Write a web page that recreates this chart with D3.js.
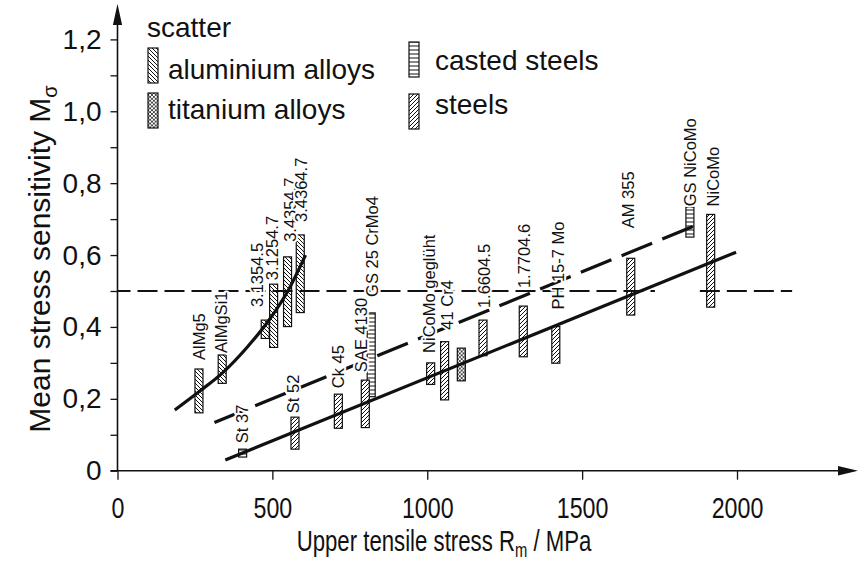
<!DOCTYPE html>
<html>
<head>
<meta charset="utf-8">
<script src="https://cdn.jsdelivr.net/npm/d3@7"></script>
<style>
  body { margin: 0; background: #fff; }
  svg { display: block; font-family: "Liberation Sans", Arial, Helvetica, sans-serif; }
</style>
</head>
<body>
<svg id="chart" width="859" height="562"></svg>
<script>
// Scatter bands of mean stress sensitivity: tensile strength Rm (MPa), lower / upper M_sigma
const aluminiumAlloys = [
  { name: "AlMg5",    rm: 263, lo: 0.161, hi: 0.283 },
  { name: "AlMgSi1",  rm: 338, lo: 0.243, hi: 0.322 },
  { name: "3.1354.5", rm: 477, lo: 0.368, hi: 0.419 },
  { name: "3.1254.7", rm: 504, lo: 0.343, hi: 0.519 },
  { name: "3.4354.7", rm: 549, lo: 0.401, hi: 0.595 },
  { name: "3.4364.7", rm: 590, lo: 0.440, hi: 0.656 }
];
const titaniumAlloys = [
  { name: "", rm: 1110, lo: 0.250, hi: 0.341 }
];
const castedSteels = [
  { name: "St 37",       rm: 404,  lo: 0.038, hi: 0.060 },
  { name: "GS 25 CrMo4", rm: 819,  lo: 0.206, hi: 0.439 },
  { name: "GS NiCoMo",   rm: 1848, lo: 0.650, hi: 0.733 }
];
const steels = [
  { name: "St 52",          rm: 573,  lo: 0.060, hi: 0.149 },
  { name: "Ck 45",          rm: 713,  lo: 0.118, hi: 0.213 },
  { name: "SAE 4130",       rm: 800,  lo: 0.120, hi: 0.252 },
  { name: "NiCoMo geglüht", rm: 1011, lo: 0.240, hi: 0.300 },
  { name: "41 Cr4",         rm: 1056, lo: 0.197, hi: 0.359 },
  { name: "1.6604.5",       rm: 1180, lo: 0.320, hi: 0.419 },
  { name: "1.7704.6",       rm: 1310, lo: 0.317, hi: 0.458 },
  { name: "PH 15-7 Mo",     rm: 1415, lo: 0.299, hi: 0.401 },
  { name: "AM 355",         rm: 1657, lo: 0.433, hi: 0.591 },
  { name: "NiCoMo",         rm: 1915, lo: 0.455, hi: 0.713 }
];

// Trend lines (Rm, M_sigma)
const aluminiumTrend = [[185, 0.169], [265, 0.221], [340, 0.273], [420, 0.345], [490, 0.420], [550, 0.500], [607, 0.600]];
const steelTrend = [[348, 0.030], [1997, 0.608]];
const castTrend = [[313, 0.134], [1870, 0.684]];

// Reference level M_sigma = 0.5 and the Rm spans where it is drawn
const refLevel = 0.5;
const refSpans = [[0, 1735], [1880, 2178]];

// Axis ticks
const xTicks = [0, 500, 1000, 1500, 2000];
const yTicks = [0, 0.1, 0.2, 0.3, 0.4, 0.5, 0.6, 0.7, 0.8, 0.9, 1.0, 1.1, 1.2];
const yTickLabels = { 0: "0", 0.2: "0,2", 0.4: "0,4", 0.6: "0,6", 0.8: "0,8", 1.0: "1,0", 1.2: "1,2" };

// Label placement around each band: [horizontal shift, lift above band] in px
const labelLayout = {
  "AlMg5": [0, 9], "AlMgSi1": [-1.5, 2], "3.1354.5": [-8, 13], "3.1254.7": [-1.5, 4],
  "3.4354.7": [2, 15], "3.4364.7": [1, 13], "St 37": [-0.5, 6], "St 52": [-1.5, 4],
  "Ck 45": [0, 6], "SAE 4130": [-4.5, 8], "GS 25 CrMo4": [0.5, 16], "NiCoMo geglüht": [-2, 10],
  "41 Cr4": [2, 12], "1.6604.5": [0.5, 12], "1.7704.6": [1, 18], "PH 15-7 Mo": [2, 17],
  "AM 355": [-2.5, 30], "GS NiCoMo": [0, 1], "NiCoMo": [2, 8]
};

const ink = "#111";
const svg = d3.select("#chart");
const x = d3.scaleLinear().domain([0, 2000]).range([117.5, 737]);
const y = d3.scaleLinear().domain([0, 1.2]).range([470.7, 39.4]);
const x0 = x(0), y0 = y(0);

// ---- fill patterns ----
const defs = svg.append("defs");
function pattern(id, size, paths, width) {
  const p = defs.append("pattern").attr("id", id)
    .attr("patternUnits", "userSpaceOnUse").attr("width", size).attr("height", size);
  p.append("rect").attr("width", size).attr("height", size).attr("fill", "#fff");
  paths.forEach(d => p.append("path").attr("d", d).attr("stroke", ink)
    .attr("stroke-width", width).attr("fill", "none"));
}
function diag(t, down) {
  return down
    ? `M0,0L${t},${t}M-1,${t - 1}L1,${t + 1}M${t - 1},-1L${t + 1},1`
    : `M0,${t}L${t},0M-1,1L1,-1M${t - 1},${t + 1}L${t + 1},${t - 1}`;
}
pattern("hatchAl", 4, [diag(4, true)], 1);
pattern("hatchSteel", 4, [diag(4, false)], 1);
pattern("hatchTi", 3.8, [diag(3.8, true), diag(3.8, false)], 0.75);
pattern("hatchCast", 4, [`M0,2H4`], 1);

const barW = 8;
const bars = svg.append("g");
function drawBars(data, fillId) {
  bars.selectAll(null).data(data).join("rect")
    .attr("x", d => x(d.rm) - barW / 2)
    .attr("width", barW)
    .attr("y", d => y(d.hi))
    .attr("height", d => y(d.lo) - y(d.hi))
    .attr("fill", `url(#${fillId})`)
    .attr("stroke", ink).attr("stroke-width", 1.2);
}
drawBars(aluminiumAlloys, "hatchAl");
drawBars(castedSteels, "hatchCast");
drawBars(titaniumAlloys, "hatchTi");
drawBars(steels, "hatchSteel");

// ---- trend lines ----
const line = d3.line().x(d => x(d[0])).y(d => y(d[1]));
const lines = svg.append("g").attr("fill", "none").attr("stroke", ink);
lines.append("path").attr("d", line.curve(d3.curveMonotoneX)(aluminiumTrend))
  .attr("stroke-width", 3.2);
line.curve(d3.curveLinear);
lines.append("path").attr("d", line(steelTrend)).attr("stroke-width", 3.2);
lines.append("path").attr("d", line(castTrend)).attr("stroke-width", 3.2)
  .attr("stroke-dasharray", "33,11");
lines.selectAll(null).data(refSpans).join("path")
  .attr("d", d => line([[d[0], refLevel], [d[1], refLevel]]))
  .attr("stroke-width", 1.9)
  .attr("stroke-dasharray", "20,7")
  .attr("stroke-dashoffset", (d, i) => i === 0 ? 7 : 0);

// ---- band labels (white halo knocks out lines underneath) ----
const labelled = [...aluminiumAlloys, ...castedSteels, ...steels].filter(d => d.name);
svg.append("g").selectAll("text").data(labelled).join("text")
  .attr("transform", d => {
    const [dx, lift] = labelLayout[d.name] || [0, 6];
    return `translate(${x(d.rm) + dx + 6},${y(d.hi) - lift}) rotate(-90)`;
  })
  .attr("font-size", 16.5)
  .attr("fill", ink)
  .attr("stroke", "#fff").attr("stroke-width", 4)
  .attr("stroke-linejoin", "round")
  .attr("paint-order", "stroke")
  .text(d => d.name);

// ---- axes ----
const yAxis = d3.axisLeft(y).tickValues(yTicks).tickSize(7).tickPadding(9)
  .tickFormat(d => yTickLabels[Math.round(d * 10) / 10] || "");
const gy = svg.append("g").attr("transform", `translate(${x0},0)`).call(yAxis);
gy.select(".domain").remove();
gy.selectAll(".tick line").attr("stroke", ink).attr("stroke-width", 1.3);
gy.selectAll(".tick text").attr("font-size", 28).attr("fill", ink)
  .attr("font-family", "Liberation Sans, Arial, sans-serif");

const xAxis = d3.axisBottom(x).tickValues(xTicks).tickSize(9).tickPadding(18)
  .tickFormat(d3.format("d"));
const gx = svg.append("g").attr("transform", `translate(0,${y0})`).call(xAxis);
gx.select(".domain").remove();
gx.selectAll(".tick line").attr("stroke", ink).attr("stroke-width", 1.3);
gx.selectAll(".tick text").attr("font-size", 29).attr("fill", ink)
  .attr("font-family", "Liberation Sans, Arial, sans-serif")
  .attr("transform", "scale(0.8,1)");

// axis lines with arrow heads
const axes = svg.append("g").attr("stroke", ink).attr("stroke-width", 1.6);
axes.append("line").attr("x1", x0).attr("y1", y0).attr("x2", x0).attr("y2", 20);
axes.append("line").attr("x1", x0 - 7).attr("y1", y0).attr("x2", 846).attr("y2", y0);
svg.append("path").attr("fill", ink)
  .attr("d", `M${x0},4L${x0 - 4.6},25L${x0 + 4.6},25Z`);
svg.append("path").attr("fill", ink)
  .attr("d", `M858,${y0}L838,${y0 - 4.8}L838,${y0 + 4.8}Z`);

// axis titles
const yTitle = svg.append("text")
  .attr("transform", `translate(50,259) rotate(-90)`)
  .attr("text-anchor", "middle").attr("font-size", 30).attr("fill", ink);
yTitle.append("tspan").text("Mean stress sensitivity M");
yTitle.append("tspan").attr("font-size", 20).attr("dy", 7).text("σ");

const xTitle = svg.append("g").attr("transform", "translate(444,551)")
  .append("text").attr("transform", "scale(0.74,1)")
  .attr("text-anchor", "middle").attr("font-size", 30).attr("fill", ink);
xTitle.append("tspan").text("Upper tensile stress R");
xTitle.append("tspan").attr("font-size", 20).attr("dy", 6).text("m");
xTitle.append("tspan").attr("dy", -6).text(" / MPa");

// ---- legend ----
const legendItems = [
  { label: "aluminium alloys", fill: "hatchAl",    ix: 148, iy: 48, tx: 168, ty: 79 },
  { label: "titanium alloys",  fill: "hatchTi",    ix: 148, iy: 93, tx: 168, ty: 119 },
  { label: "casted steels",    fill: "hatchCast",  ix: 409, iy: 42, tx: 435, ty: 70 },
  { label: "steels",           fill: "hatchSteel", ix: 409, iy: 94, tx: 435, ty: 114 }
];
const legend = svg.append("g").attr("fill", ink).attr("font-size", 28);
legend.append("text").attr("x", 147).attr("y", 37).text("scatter");
legend.selectAll("rect").data(legendItems).join("rect")
  .attr("x", d => d.ix).attr("y", d => d.iy).attr("width", 10).attr("height", 35)
  .attr("fill", d => `url(#${d.fill})`).attr("stroke", ink).attr("stroke-width", 1.2);
legend.selectAll(".lt").data(legendItems).join("text").attr("class", "lt")
  .attr("x", d => d.tx).attr("y", d => d.ty).text(d => d.label);
</script>
</body>
</html>
